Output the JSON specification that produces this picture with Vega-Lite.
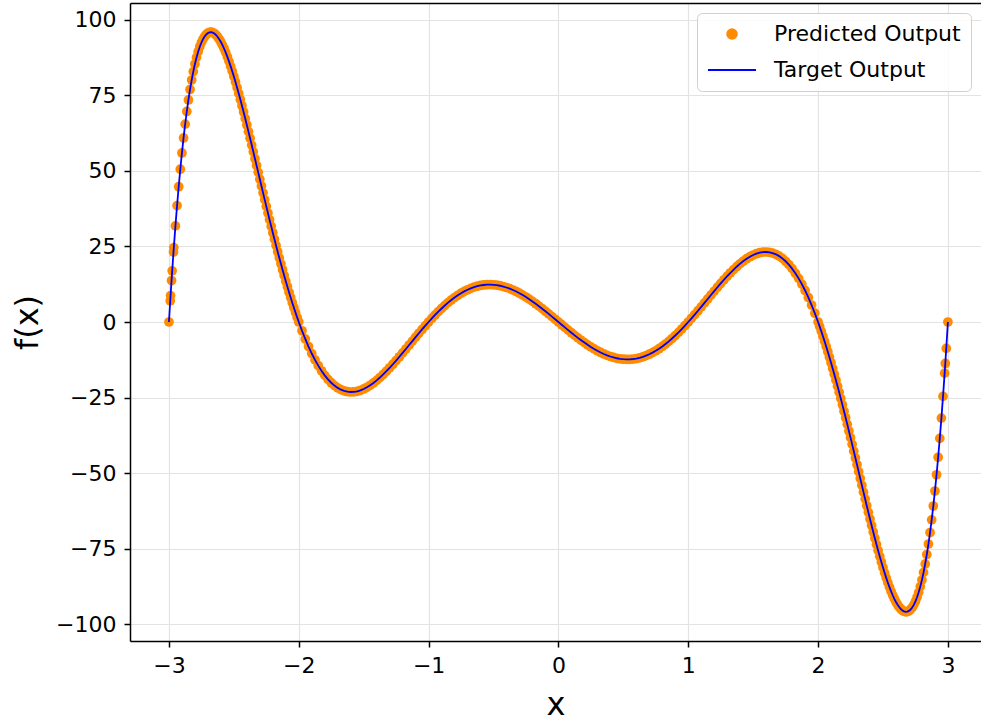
{
  "$schema": "https://vega.github.io/schema/vega-lite/v6.json",
  "width": 851,
  "height": 638,
  "autosize": {"type": "none"},
  "padding": {"left": 130, "top": 3, "right": 0, "bottom": 78},
  "background": "white",
  "config": {
    "view": {"stroke": null},
    "font": "DejaVu Sans",
    "axis": {
      "labelFont": "DejaVu Sans",
      "labelFontSize": 22,
      "labelColor": "#000000",
      "titleFont": "DejaVu Sans",
      "titleFontSize": 32,
      "titleFontWeight": "normal",
      "titleColor": "#000000",
      "domainColor": "#000000",
      "domainWidth": 1.5,
      "tickColor": "#000000",
      "tickWidth": 1.5,
      "tickSize": 6,
      "labelPadding": 8,
      "gridColor": "#e3e3e3",
      "gridWidth": 1.2
    },
    "legend": {
      "orient": "top-right",
      "offset": 10,
      "labelFont": "DejaVu Sans",
      "labelFontSize": 22,
      "labelColor": "#000000",
      "labelLimit": 0,
      "symbolStrokeWidth": 1.8,
      "labelOffset": 17,
      "rowPadding": 0,
      "padding": 10,
      "fillColor": "rgba(255,255,255,0.85)",
      "strokeColor": "#d0d0d0",
      "cornerRadius": 5
    }
  },
  "data": {
    "values": [
      {"x": -3, "y": 0}, {"x": -2.99, "y": 7.03}, {"x": -2.9875, "y": 8.73}, {"x": -2.98, "y": 13.71},
      {"x": -2.975, "y": 16.92}, {"x": -2.965, "y": 23.11}, {"x": -2.9625, "y": 24.6}, {"x": -2.95, "y": 31.79},
      {"x": -2.9375, "y": 38.5}, {"x": -2.925, "y": 44.74}, {"x": -2.9125, "y": 50.54}, {"x": -2.9, "y": 55.91},
      {"x": -2.8875, "y": 60.87}, {"x": -2.875, "y": 65.44}, {"x": -2.8625, "y": 69.62}, {"x": -2.85, "y": 73.43},
      {"x": -2.8375, "y": 76.9}, {"x": -2.825, "y": 80.02}, {"x": -2.8125, "y": 82.82}, {"x": -2.8, "y": 85.31},
      {"x": -2.7875, "y": 87.5}, {"x": -2.775, "y": 89.41}, {"x": -2.7625, "y": 91.05}, {"x": -2.75, "y": 92.42},
      {"x": -2.7375, "y": 93.55}, {"x": -2.725, "y": 94.43}, {"x": -2.7125, "y": 95.1}, {"x": -2.7, "y": 95.55},
      {"x": -2.6875, "y": 95.79}, {"x": -2.675, "y": 95.84}, {"x": -2.6625, "y": 95.7}, {"x": -2.65, "y": 95.39},
      {"x": -2.6375, "y": 94.92}, {"x": -2.625, "y": 94.28}, {"x": -2.6125, "y": 93.51}, {"x": -2.6, "y": 92.59},
      {"x": -2.5875, "y": 91.54}, {"x": -2.575, "y": 90.37}, {"x": -2.5625, "y": 89.09}, {"x": -2.55, "y": 87.7},
      {"x": -2.5375, "y": 86.21}, {"x": -2.525, "y": 84.62}, {"x": -2.5125, "y": 82.96}, {"x": -2.5, "y": 81.21},
      {"x": -2.4875, "y": 79.39}, {"x": -2.475, "y": 77.51}, {"x": -2.4625, "y": 75.57}, {"x": -2.45, "y": 73.57},
      {"x": -2.4375, "y": 71.52}, {"x": -2.425, "y": 69.43}, {"x": -2.4125, "y": 67.3}, {"x": -2.4, "y": 65.14},
      {"x": -2.3875, "y": 62.96}, {"x": -2.375, "y": 60.75}, {"x": -2.3625, "y": 58.51}, {"x": -2.35, "y": 56.27},
      {"x": -2.3375, "y": 54.01}, {"x": -2.325, "y": 51.75}, {"x": -2.3125, "y": 49.49}, {"x": -2.3, "y": 47.22},
      {"x": -2.2875, "y": 44.96}, {"x": -2.275, "y": 42.71}, {"x": -2.2625, "y": 40.47}, {"x": -2.25, "y": 38.24},
      {"x": -2.2375, "y": 36.03}, {"x": -2.225, "y": 33.84}, {"x": -2.2125, "y": 31.67}, {"x": -2.2, "y": 29.52},
      {"x": -2.1875, "y": 27.4}, {"x": -2.175, "y": 25.31}, {"x": -2.1625, "y": 23.25}, {"x": -2.15, "y": 21.22},
      {"x": -2.1375, "y": 19.23}, {"x": -2.125, "y": 17.27}, {"x": -2.1125, "y": 15.36}, {"x": -2.1, "y": 13.48},
      {"x": -2.0875, "y": 11.64}, {"x": -2.075, "y": 9.84}, {"x": -2.0625, "y": 8.09}, {"x": -2.05, "y": 6.38},
      {"x": -2.0375, "y": 4.71}, {"x": -2.025, "y": 3.1}, {"x": -2.0125, "y": 1.52}, {"x": -2, "y": 0},
      {"x": -1.975, "y": -2.9}, {"x": -1.95, "y": -5.61}, {"x": -1.925, "y": -8.12}, {"x": -1.9, "y": -10.42},
      {"x": -1.875, "y": -12.53}, {"x": -1.85, "y": -14.44}, {"x": -1.825, "y": -16.14}, {"x": -1.8, "y": -17.65},
      {"x": -1.775, "y": -18.97}, {"x": -1.75, "y": -20.09}, {"x": -1.725, "y": -21.03}, {"x": -1.7, "y": -21.79},
      {"x": -1.675, "y": -22.38}, {"x": -1.65, "y": -22.79}, {"x": -1.625, "y": -23.05}, {"x": -1.6, "y": -23.15},
      {"x": -1.575, "y": -23.1}, {"x": -1.55, "y": -22.91}, {"x": -1.525, "y": -22.59}, {"x": -1.5, "y": -22.15},
      {"x": -1.475, "y": -21.59}, {"x": -1.45, "y": -20.92}, {"x": -1.425, "y": -20.16}, {"x": -1.4, "y": -19.3},
      {"x": -1.375, "y": -18.37}, {"x": -1.35, "y": -17.35}, {"x": -1.325, "y": -16.28}, {"x": -1.3, "y": -15.15},
      {"x": -1.275, "y": -13.97}, {"x": -1.25, "y": -12.75}, {"x": -1.225, "y": -11.5}, {"x": -1.2, "y": -10.22},
      {"x": -1.175, "y": -8.93}, {"x": -1.15, "y": -7.62}, {"x": -1.125, "y": -6.32}, {"x": -1.1, "y": -5.02},
      {"x": -1.075, "y": -3.73}, {"x": -1.05, "y": -2.46}, {"x": -1.025, "y": -1.22}, {"x": -1, "y": 0},
      {"x": -0.975, "y": 1.18}, {"x": -0.95, "y": 2.32}, {"x": -0.925, "y": 3.42}, {"x": -0.9, "y": 4.47},
      {"x": -0.875, "y": 5.46}, {"x": -0.85, "y": 6.4}, {"x": -0.825, "y": 7.28}, {"x": -0.8, "y": 8.09},
      {"x": -0.775, "y": 8.84}, {"x": -0.75, "y": 9.52}, {"x": -0.725, "y": 10.13}, {"x": -0.7, "y": 10.66},
      {"x": -0.675, "y": 11.13}, {"x": -0.65, "y": 11.52}, {"x": -0.625, "y": 11.84}, {"x": -0.6, "y": 12.08},
      {"x": -0.575, "y": 12.24}, {"x": -0.55, "y": 12.34}, {"x": -0.525, "y": 12.36}, {"x": -0.5, "y": 12.31},
      {"x": -0.475, "y": 12.18}, {"x": -0.45, "y": 11.99}, {"x": -0.425, "y": 11.73}, {"x": -0.4, "y": 11.41},
      {"x": -0.375, "y": 11.02}, {"x": -0.35, "y": 10.57}, {"x": -0.325, "y": 10.07}, {"x": -0.3, "y": 9.51},
      {"x": -0.275, "y": 8.9}, {"x": -0.25, "y": 8.25}, {"x": -0.225, "y": 7.55}, {"x": -0.2, "y": 6.81},
      {"x": -0.175, "y": 6.04}, {"x": -0.15, "y": 5.24}, {"x": -0.125, "y": 4.41}, {"x": -0.1, "y": 3.55},
      {"x": -0.075, "y": 2.68}, {"x": -0.05, "y": 1.79}, {"x": -0.025, "y": 0.9}, {"x": 0, "y": 0},
      {"x": 0.025, "y": -0.9}, {"x": 0.05, "y": -1.79}, {"x": 0.075, "y": -2.68}, {"x": 0.1, "y": -3.55},
      {"x": 0.125, "y": -4.41}, {"x": 0.15, "y": -5.24}, {"x": 0.175, "y": -6.04}, {"x": 0.2, "y": -6.81},
      {"x": 0.225, "y": -7.55}, {"x": 0.25, "y": -8.25}, {"x": 0.275, "y": -8.9}, {"x": 0.3, "y": -9.51},
      {"x": 0.325, "y": -10.07}, {"x": 0.35, "y": -10.57}, {"x": 0.375, "y": -11.02}, {"x": 0.4, "y": -11.41},
      {"x": 0.425, "y": -11.73}, {"x": 0.45, "y": -11.99}, {"x": 0.475, "y": -12.18}, {"x": 0.5, "y": -12.31},
      {"x": 0.525, "y": -12.36}, {"x": 0.55, "y": -12.34}, {"x": 0.575, "y": -12.24}, {"x": 0.6, "y": -12.08},
      {"x": 0.625, "y": -11.84}, {"x": 0.65, "y": -11.52}, {"x": 0.675, "y": -11.13}, {"x": 0.7, "y": -10.66},
      {"x": 0.725, "y": -10.13}, {"x": 0.75, "y": -9.52}, {"x": 0.775, "y": -8.84}, {"x": 0.8, "y": -8.09},
      {"x": 0.825, "y": -7.28}, {"x": 0.85, "y": -6.4}, {"x": 0.875, "y": -5.46}, {"x": 0.9, "y": -4.47},
      {"x": 0.925, "y": -3.42}, {"x": 0.95, "y": -2.32}, {"x": 0.975, "y": -1.18}, {"x": 1, "y": 0},
      {"x": 1.025, "y": 1.22}, {"x": 1.05, "y": 2.46}, {"x": 1.075, "y": 3.73}, {"x": 1.1, "y": 5.02},
      {"x": 1.125, "y": 6.32}, {"x": 1.15, "y": 7.62}, {"x": 1.175, "y": 8.93}, {"x": 1.2, "y": 10.22},
      {"x": 1.225, "y": 11.5}, {"x": 1.25, "y": 12.75}, {"x": 1.275, "y": 13.97}, {"x": 1.3, "y": 15.15},
      {"x": 1.325, "y": 16.28}, {"x": 1.35, "y": 17.35}, {"x": 1.375, "y": 18.37}, {"x": 1.4, "y": 19.3},
      {"x": 1.425, "y": 20.16}, {"x": 1.45, "y": 20.92}, {"x": 1.475, "y": 21.59}, {"x": 1.5, "y": 22.15},
      {"x": 1.525, "y": 22.59}, {"x": 1.55, "y": 22.91}, {"x": 1.575, "y": 23.1}, {"x": 1.6, "y": 23.15},
      {"x": 1.625, "y": 23.05}, {"x": 1.65, "y": 22.79}, {"x": 1.675, "y": 22.38}, {"x": 1.7, "y": 21.79},
      {"x": 1.725, "y": 21.03}, {"x": 1.75, "y": 20.09}, {"x": 1.775, "y": 18.97}, {"x": 1.8, "y": 17.65},
      {"x": 1.825, "y": 16.14}, {"x": 1.85, "y": 14.44}, {"x": 1.875, "y": 12.53}, {"x": 1.9, "y": 10.42},
      {"x": 1.925, "y": 8.12}, {"x": 1.95, "y": 5.61}, {"x": 1.975, "y": 2.9}, {"x": 2, "y": 0},
      {"x": 2.0125, "y": -1.52}, {"x": 2.025, "y": -3.1}, {"x": 2.0375, "y": -4.71}, {"x": 2.05, "y": -6.38},
      {"x": 2.0625, "y": -8.09}, {"x": 2.075, "y": -9.84}, {"x": 2.0875, "y": -11.64}, {"x": 2.1, "y": -13.48},
      {"x": 2.1125, "y": -15.36}, {"x": 2.125, "y": -17.27}, {"x": 2.1375, "y": -19.23}, {"x": 2.15, "y": -21.22},
      {"x": 2.1625, "y": -23.25}, {"x": 2.175, "y": -25.31}, {"x": 2.1875, "y": -27.4}, {"x": 2.2, "y": -29.52},
      {"x": 2.2125, "y": -31.67}, {"x": 2.225, "y": -33.84}, {"x": 2.2375, "y": -36.03}, {"x": 2.25, "y": -38.24},
      {"x": 2.2625, "y": -40.47}, {"x": 2.275, "y": -42.71}, {"x": 2.2875, "y": -44.96}, {"x": 2.3, "y": -47.22},
      {"x": 2.3125, "y": -49.49}, {"x": 2.325, "y": -51.75}, {"x": 2.3375, "y": -54.01}, {"x": 2.35, "y": -56.27},
      {"x": 2.3625, "y": -58.51}, {"x": 2.375, "y": -60.75}, {"x": 2.3875, "y": -62.96}, {"x": 2.4, "y": -65.14},
      {"x": 2.4125, "y": -67.3}, {"x": 2.425, "y": -69.43}, {"x": 2.4375, "y": -71.52}, {"x": 2.45, "y": -73.57},
      {"x": 2.4625, "y": -75.57}, {"x": 2.475, "y": -77.51}, {"x": 2.4875, "y": -79.39}, {"x": 2.5, "y": -81.21},
      {"x": 2.5125, "y": -82.96}, {"x": 2.525, "y": -84.62}, {"x": 2.5375, "y": -86.21}, {"x": 2.55, "y": -87.7},
      {"x": 2.5625, "y": -89.09}, {"x": 2.575, "y": -90.37}, {"x": 2.5875, "y": -91.54}, {"x": 2.6, "y": -92.59},
      {"x": 2.6125, "y": -93.51}, {"x": 2.625, "y": -94.28}, {"x": 2.6375, "y": -94.92}, {"x": 2.65, "y": -95.39},
      {"x": 2.6625, "y": -95.7}, {"x": 2.675, "y": -95.84}, {"x": 2.6875, "y": -95.79}, {"x": 2.7, "y": -95.55},
      {"x": 2.7125, "y": -95.1}, {"x": 2.725, "y": -94.43}, {"x": 2.7375, "y": -93.55}, {"x": 2.75, "y": -92.42},
      {"x": 2.7625, "y": -91.05}, {"x": 2.775, "y": -89.41}, {"x": 2.7875, "y": -87.5}, {"x": 2.8, "y": -85.31},
      {"x": 2.8125, "y": -82.82}, {"x": 2.825, "y": -80.02}, {"x": 2.8375, "y": -76.9}, {"x": 2.85, "y": -73.43},
      {"x": 2.8625, "y": -69.62}, {"x": 2.875, "y": -65.44}, {"x": 2.8875, "y": -60.87}, {"x": 2.9, "y": -55.91},
      {"x": 2.9125, "y": -50.54}, {"x": 2.925, "y": -44.74}, {"x": 2.9375, "y": -38.5}, {"x": 2.95, "y": -31.79},
      {"x": 2.9625, "y": -24.6}, {"x": 2.975, "y": -16.92}, {"x": 2.98, "y": -13.71}, {"x": 2.9875, "y": -8.73},
      {"x": 3, "y": 0}
    ]
  },
  "layer": [
    {
      "mark": {"type": "point", "filled": true, "opacity": 1},
      "encoding": {
        "x": {
          "field": "x", "type": "quantitative",
          "scale": {"domain": [-3.3, 3.255], "nice": false, "zero": false},
          "axis": {"orient": "bottom", "values": [-3, -2, -1, 0, 1, 2, 3], "title": "x", "titlePadding": 13, "grid": true}
        },
        "y": {
          "field": "y", "type": "quantitative",
          "scale": {"domain": [-105.5, 105.5], "nice": false, "zero": false},
          "axis": {"values": [-100, -75, -50, -25, 0, 25, 50, 75, 100], "title": "f(x)", "titlePadding": 11, "grid": true}
        },
        "fill": {
          "datum": "Predicted Output", "type": "nominal",
          "scale": {"domain": ["Predicted Output", "Target Output"], "range": ["#ff8c00", "#0000ff"]},
          "legend": {"title": null}
        },
        "shape": {
          "datum": "Predicted Output", "type": "nominal",
          "scale": {"domain": ["Predicted Output", "Target Output"], "range": ["circle", "stroke"]},
          "legend": {"title": null}
        },
        "size": {
          "datum": "Predicted Output", "type": "nominal",
          "scale": {"type": "point", "padding": 0, "domain": ["Predicted Output", "Target Output"], "range": [95, 2304]},
          "legend": {"title": null}
        }
      }
    },
    {
      "mark": {"type": "line", "strokeWidth": 1.8},
      "encoding": {
        "x": {
          "field": "x", "type": "quantitative",
          "axis": {"orient": "top", "labels": false, "ticks": false, "grid": false, "title": null, "domain": true}
        },
        "y": {"field": "y", "type": "quantitative"},
        "stroke": {
          "datum": "Target Output", "type": "nominal",
          "scale": {"domain": ["Predicted Output", "Target Output"], "range": ["#ff8c00", "#0000ff"]},
          "legend": {"title": null}
        }
      }
    }
  ],
  "resolve": {"axis": {"x": "independent"}}
}
